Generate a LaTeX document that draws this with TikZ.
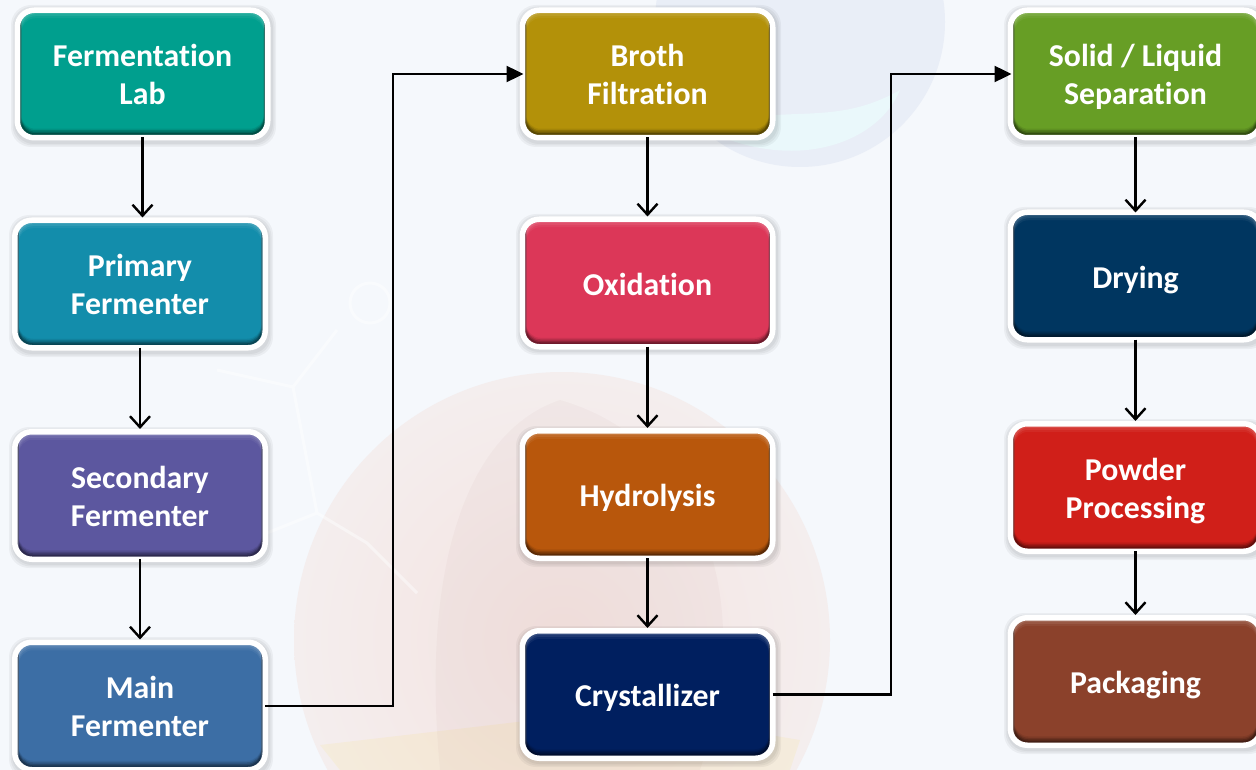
\documentclass[tikz,border=0pt]{standalone}
\usepackage{fontspec}
\setmainfont{Carlito}[Ligatures=CommonOff]
\usetikzlibrary{arrows.meta}
\definecolor{bgbase}{HTML}{F5F8FC}
\definecolor{flaskA}{HTML}{E9EEF7}
\definecolor{flaskB}{HTML}{EAF8FB}
\definecolor{cLab}{HTML}{009F8E}
\definecolor{cPrim}{HTML}{138DAB}
\definecolor{cSec}{HTML}{5C579F}
\definecolor{cMain}{HTML}{3C6EA5}
\definecolor{cBroth}{HTML}{B39109}
\definecolor{cOxid}{HTML}{DC3758}
\definecolor{cHydro}{HTML}{B8570C}
\definecolor{cCryst}{HTML}{001F5F}
\definecolor{cSolid}{HTML}{679E25}
\definecolor{cDry}{HTML}{003660}
\definecolor{cPowder}{HTML}{D01F19}
\definecolor{cPack}{HTML}{8B412B}
\definecolor{sphereA}{HTML}{F3E2DF}
\definecolor{sphereB}{HTML}{F4EEEE}
\newcommand{\firstline}{\rule{0pt}{32pt}}
\tikzset{
  every picture/.style={x=1pt,y=-1pt},
  procbox/.style={rectangle,rounded corners=17pt,minimum width=250.5pt,minimum height=127.5pt,inner sep=0pt,
    fill=#1,draw=white,line width=5.5pt,text=white,align=center,
    font=\fontsize{31.8}{38}\selectfont\bfseries,
    execute at end node={\rule[-9pt]{0pt}{9pt}},
    path picture={
      \foreach \n/\o in {4.5/.22,6/.18,7.5/.14,9/.08}{
        \fill[black,opacity=\o,even odd rule,rounded corners=14pt]
          ([xshift=-3pt,yshift=3pt]path picture bounding box.north west) rectangle ([xshift=3pt,yshift=-3pt]path picture bounding box.south east)
          ([xshift=4pt,yshift=3pt]path picture bounding box.north west) rectangle ([xshift=-4pt,yshift=\n pt]path picture bounding box.south east);}
      \foreach \n/\o in {4/.10,6/.07,8/.05}{
        \fill[white,opacity=\o,even odd rule,rounded corners=14pt]
          ([xshift=-3pt,yshift=3pt]path picture bounding box.north west) rectangle ([xshift=3pt,yshift=-3pt]path picture bounding box.south east)
          ([xshift=4pt,yshift=-\n pt]path picture bounding box.north west) rectangle ([xshift=-4pt,yshift=-3pt]path picture bounding box.south east);}
    }},
  oneline/.style={execute at begin node={\rule{0pt}{33pt}}},
  boxshadow/.style={fill=black,opacity=.045,rounded corners=20pt},
  flowarrow/.style={draw=black,line width=2.4pt,-{Straight Barb[width=20pt,length=11pt,line width=2.4pt]}},
  elbowarrow/.style={draw=black,line width=2.4pt,-{Stealth[inset=0pt,width=16pt,length=17pt]},shorten >=-4pt}
}
\newcommand{\shadowbox}[4]{% x1,y1,x2,y2 of the coloured area
  \foreach \g in {10,8.5,7}{\fill[boxshadow] (#1-\g+1,#2-\g+2) rectangle (#3+\g+1,#4+\g+2);}
}
\begin{document}
\begin{tikzpicture}
\clip (0,0) rectangle (1256,770);
\useasboundingbox (0,0) rectangle (1256,770);
\fill[bgbase] (0,0) rectangle (1256,770);
% faint background scene
\shade[inner color=sphereA,outer color=sphereB] (562,640) circle [radius=268];
\fill[red!40!black,opacity=.025] (440,770) .. controls (420,560) and (470,430) .. (560,400) .. controls (700,440) and (760,600) .. (700,770) -- cycle;
\fill[yellow!70!orange,opacity=.07] (320,745) -- (620,710) -- (800,740) -- (790,770) -- (340,770) -- cycle;
\fill[flaskA] (800,22) circle [radius=145];
\fill[flaskB] (705,130) .. controls (780,100) and (830,130) .. (900,90) .. controls (880,140) and (800,175) .. (705,130) -- cycle;
\draw[white,line width=3pt,opacity=.45] (217,370) -- (293,387) -- (337,330) (293,387) -- (317,513) -- (267,533) (317,513) -- (367,543) -- (417,593);
\draw[white,line width=3pt,opacity=.45] (370,303) circle [radius=20];
% box shadows
\shadowbox{20}{13}{265}{135}\shadowbox{18}{223}{262}{345}\shadowbox{18}{435}{262}{556}\shadowbox{18}{645}{262}{767}
\shadowbox{525}{13}{770}{135}\shadowbox{525}{222}{770}{343}\shadowbox{525}{434}{770}{555}\shadowbox{525}{634}{770}{755}
\shadowbox{1013}{13}{1258}{135}\shadowbox{1013}{215}{1258}{337}\shadowbox{1013}{427}{1258}{548}\shadowbox{1013}{621}{1258}{742}
% first column
\node[procbox=cLab] (lab) at (142.5,74) {\firstline Fermentation\\Lab};
\node[procbox=cPrim] (primary) at (140,284) {\firstline Primary\\Fermenter};
\node[procbox=cSec] (secondary) at (140,495.5) {\firstline Secondary\\Fermenter};
\node[procbox=cMain] (main) at (140,706) {\firstline Main\\Fermenter};
% second column
\node[procbox=cBroth] (broth) at (647.5,74) {\firstline Broth\\Filtration};
\node[procbox=cOxid,oneline] (oxid) at (647.5,283) {Oxidation};
\node[procbox=cHydro,oneline] (hydro) at (647.5,494.5) {Hydrolysis};
\node[procbox=cCryst,oneline] (cryst) at (647.5,694.5) {Crystallizer};
% third column
\node[procbox=cSolid] (solid) at (1135.5,74) {\firstline Solid / Liquid\\Separation};
\node[procbox=cDry,oneline] (dry) at (1135.5,276) {Drying};
\node[procbox=cPowder] (powder) at (1135.5,487.5) {\firstline Powder\\Processing};
\node[procbox=cPack,oneline] (pack) at (1135.5,681.5) {Packaging};
% connectors
\draw[flowarrow,shorten <=-3pt] (lab.south) -- (lab.south |- primary.north);
\draw[flowarrow,shorten <=-3pt] (primary.south) -- (secondary.north);
\draw[flowarrow,shorten <=-3pt] (secondary.south) -- (main.north);
\draw[flowarrow,shorten <=-3pt] (broth.south) -- (oxid.north);
\draw[flowarrow,shorten <=-3pt] (oxid.south) -- (hydro.north);
\draw[flowarrow,shorten <=-3pt] (hydro.south) -- (cryst.north);
\draw[flowarrow,shorten <=-3pt,shorten >=-3pt] (solid.south) -- (dry.north);
\draw[flowarrow,shorten <=-3pt] (dry.south) -- (powder.north);
\draw[flowarrow,shorten <=-3pt] (powder.south) -- (pack.north);
\coordinate (elbowA) at (393,0);
\coordinate (elbowB) at (891,0);
\draw[elbowarrow,shorten <=-3pt] (main.east) -- (elbowA |- main.east) -- (elbowA |- broth.west) -- (broth.west);
\draw[elbowarrow,shorten <=-3pt] (cryst.east) -- (elbowB |- cryst.east) -- (elbowB |- solid.west) -- (solid.west);
\end{tikzpicture}
\end{document}
